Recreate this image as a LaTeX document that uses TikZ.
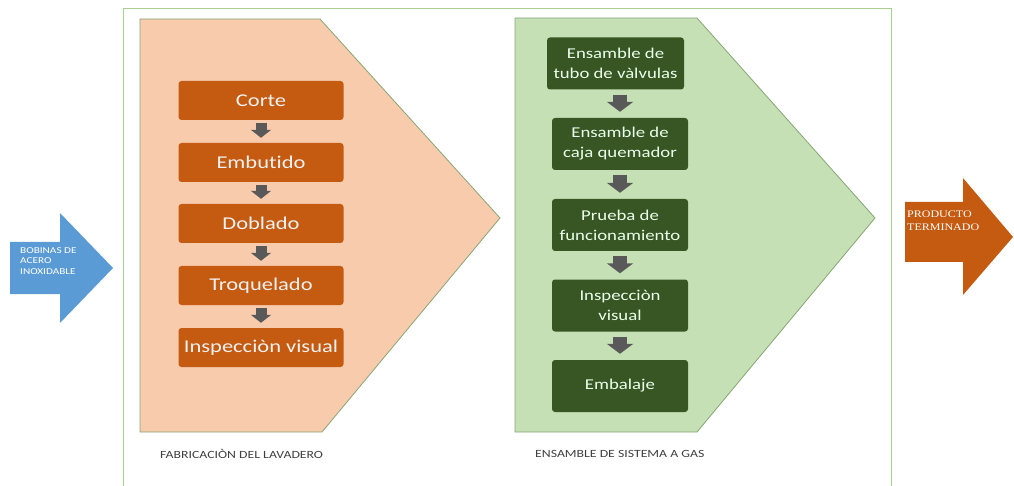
\documentclass[tikz,border=0pt]{standalone}
\usepackage{fontspec}
\setmainfont[FakeStretch=1.25,Ligatures={NoCommon}]{Carlito}
\newfontfamily\serifa[FakeStretch=1.2]{Liberation Serif}
\usetikzlibrary{arrows.meta}
\definecolor{naranja}{HTML}{C55A11}
\definecolor{salmon}{HTML}{F8CBAD}
\definecolor{verdec}{HTML}{C5E0B4}
\definecolor{verdeo}{HTML}{375623}
\definecolor{borde}{HTML}{86A674}
\definecolor{marco}{HTML}{A9D18E}
\definecolor{gris}{HTML}{595959}
\definecolor{azul}{HTML}{5B9BD5}
\begin{document}
\begin{tikzpicture}[x=1pt,y=-1pt,
  caja/.style={fill=naranja,rounded corners=3pt,minimum width=165pt,minimum height=39pt,inner sep=0pt,text=white!95!black,font=\fontsize{18}{21}\selectfont},
  cajav/.style={fill=verdeo,rounded corners=3pt,minimum width=136pt,minimum height=52pt,inner sep=0pt,text=white!92!green,align=center,font=\fontsize{15}{20}\selectfont},
  flecha/.style={draw=gris,line width=11pt,-{Triangle[width=20pt,length=8pt]},shorten <=3pt,shorten >=5pt},
  flechav/.style={draw=gris,line width=14pt,-{Triangle[width=26pt,length=10pt]},shorten <=5pt,shorten >=6pt},
  etiqueta/.style={text=black!75,font=\fontsize{11}{13}\selectfont,anchor=west,inner sep=0pt}]
\useasboundingbox (0,0) rectangle (1014,486);
\draw[marco,line width=1pt] (123,490) -- (123,9) -- (891,9) -- (891,490);
\filldraw[fill=salmon,draw=borde,line width=0.8pt] (140,19) -- (320,19) -- (500,218) -- (322,432) -- (140,432) -- cycle;
\filldraw[fill=verdec,draw=borde,line width=0.8pt] (515,18) -- (697,18) -- (875,218) -- (697,432) -- (515,432) -- cycle;
% entrada y salida
\fill[azul] (10,242) -- (60,242) -- (60,213) -- (113,268) -- (60,323) -- (60,294) -- (10,294) -- cycle;
\fill[naranja] (905,202) -- (963,202) -- (963,178) -- (1013,237) -- (963,295) -- (963,262) -- (905,262) -- cycle;
\node[anchor=north west,align=left,inner sep=0pt,text=white,font=\fontsize{9}{10.8}\selectfont] (bobinas) at (20,247) {BOBINAS DE\\ACERO\\INOXIDABLE};
\node[anchor=north west,align=left,inner sep=0pt,text=white,font=\serifa\fontsize{10}{12.5}\selectfont] (producto) at (907,211) {PRODUCTO\\TERMINADO};
% fabricacion
\node[caja] (corte) at (261,100.5) {Corte};
\node[caja] (embutido) at (261,162.5) {Embutido};
\node[caja] (doblado) at (261,223.5) {Doblado};
\node[caja] (troquelado) at (261,285.5) {Troquelado};
\node[caja] (inspeccion) at (261,347.5) {Inspecciòn visual};
\draw[flecha] (corte) -- (embutido);
\draw[flecha] (embutido) -- (doblado);
\draw[flecha] (doblado) -- (troquelado);
\draw[flecha] (troquelado) -- (inspeccion);
% sistema a gas
\node[cajav,minimum width=137pt] (tubo) at (615.5,63.5) {Ensamble de\\tubo de vàlvulas};
\node[cajav] (quemador) at (620,144) {Ensamble de\\caja quemador};
\node[cajav] (prueba) at (620,225) {Prueba de\\funcionamiento};
\node[cajav] (visual) at (620,305.5) {Inspecciòn\\visual};
\node[cajav] (embalaje) at (620,386) {Embalaje};
\draw[flechav] (tubo.south -| quemador.south) -- (quemador);
\draw[flechav] (quemador) -- (prueba);
\draw[flechav] (prueba) -- (visual);
\draw[flechav] (visual) -- (embalaje);
\node[etiqueta] (fab) at (160,454) {FABRICACIÒN DEL LAVADERO};
\node[etiqueta] (ens) at (535,454) {ENSAMBLE DE SISTEMA A GAS};
\end{tikzpicture}
\end{document}
